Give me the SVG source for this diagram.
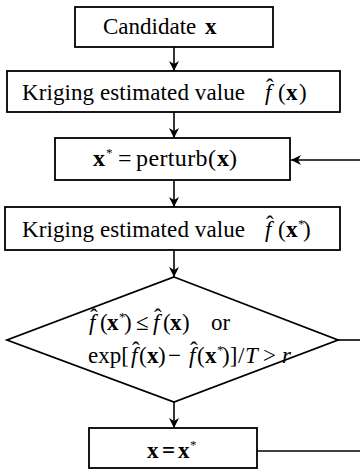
<svg xmlns="http://www.w3.org/2000/svg" width="360" height="471" viewBox="0 0 360 471">
<defs>
<style>
.box{fill:#fff;stroke:#000;stroke-width:1.8}
.ln{fill:none;stroke:#000;stroke-width:1.6}
text{font-family:"Liberation Serif","Times New Roman",serif;font-size:23px;fill:#000}
.b{font-weight:bold}
.i{font-style:italic}
.s{font-size:13px}
.m{font-size:24px}
</style>
<marker id="ah" viewBox="0 0 10 10" refX="10" refY="5" markerWidth="10" markerHeight="10" markerUnits="userSpaceOnUse" orient="auto">
<path d="M0,0 L10,5 L0,10 L3,5 z" fill="#000"/>
</marker>
</defs>
<rect width="360" height="471" fill="#fff"/>
<g id="connectors">
<line class="ln" x1="174" y1="47" x2="174" y2="71" marker-end="url(#ah)"/>
<line class="ln" x1="174" y1="112" x2="174" y2="138" marker-end="url(#ah)"/>
<line class="ln" x1="174" y1="180" x2="174" y2="207" marker-end="url(#ah)"/>
<line class="ln" x1="174" y1="250" x2="174" y2="277" marker-end="url(#ah)"/>
<line class="ln" x1="174" y1="402" x2="174" y2="428" marker-end="url(#ah)"/>
<line class="ln" x1="360" y1="160" x2="291" y2="160" marker-end="url(#ah)"/>
<line class="ln" x1="338" y1="340" x2="360" y2="340"/>
<line class="ln" x1="257" y1="451" x2="360" y2="451"/>
</g>
<g id="candidate">
<rect class="box" x="75" y="7" width="198" height="40"/>
<text x="103" y="34">Candidate<tspan class="b" x="205">x</tspan></text>
</g>
<g id="kriging1">
<rect class="box" x="7" y="71" width="333" height="41"/>
<text x="22" y="100" textLength="223" lengthAdjust="spacing">Kriging estimated value</text>
<text x="265" y="100"><tspan class="i">f</tspan><tspan x="278">(</tspan><tspan class="b" x="286">x</tspan><tspan x="299">)</tspan></text>
<text x="266" y="95">ˆ</text>
</g>
<g id="perturb">
<rect class="box" x="55" y="138" width="235" height="42"/>
<text class="m" x="93" y="166"><tspan class="b">x</tspan><tspan class="s" x="106" y="157">*</tspan><tspan x="118" y="166">=</tspan></text>
<text class="m" x="136" y="166" textLength="80" lengthAdjust="spacing">perturb(</text>
<text class="m" x="217" y="166"><tspan class="b">x</tspan><tspan x="229">)</tspan></text>
</g>
<g id="kriging2">
<rect class="box" x="5" y="207" width="335" height="43"/>
<text x="22" y="237" textLength="223" lengthAdjust="spacing">Kriging estimated value</text>
<text x="265" y="237"><tspan class="i">f</tspan><tspan x="278">(</tspan><tspan class="b" x="286">x</tspan><tspan class="s" x="298" y="228">*</tspan><tspan x="303" y="237">)</tspan></text>
<text x="266" y="232">ˆ</text>
</g>
<g id="decision">
<polygon class="box" points="174,277 338,340 174,402 7,340"/>
<text x="89" y="330"><tspan class="i">f</tspan><tspan x="100">(</tspan><tspan class="b" x="107">x</tspan><tspan class="s" x="119" y="321">*</tspan><tspan x="124" y="330">)</tspan><tspan x="136">≤</tspan><tspan class="i" x="153">f</tspan><tspan x="163">(</tspan><tspan class="b" x="170">x</tspan><tspan x="182">)</tspan><tspan x="211">or</tspan></text>
<text x="90" y="325">ˆ</text>
<text x="154" y="325">ˆ</text>
<text x="88" y="363">exp[<tspan class="i" x="131">f</tspan><tspan x="139">(</tspan><tspan class="b" x="147">x</tspan><tspan x="158">)</tspan><tspan x="168">−</tspan><tspan class="i" x="189">f</tspan><tspan x="197">(</tspan><tspan class="b" x="205">x</tspan><tspan class="s" x="217" y="354">*</tspan><tspan x="222" y="363">)]</tspan><tspan x="238">/</tspan><tspan class="i" x="245">T</tspan><tspan x="263">&gt;</tspan><tspan class="i" x="282">r</tspan></text>
<text x="132" y="358">ˆ</text>
<text x="190" y="358">ˆ</text>
</g>
<g id="assign">
<rect class="box" x="89" y="428" width="168" height="40"/>
<text x="147" y="458"><tspan class="b">x</tspan><tspan class="b" x="162">=</tspan><tspan class="b" x="178">x</tspan><tspan class="s" x="190" y="449">*</tspan></text>
</g>
</svg>
